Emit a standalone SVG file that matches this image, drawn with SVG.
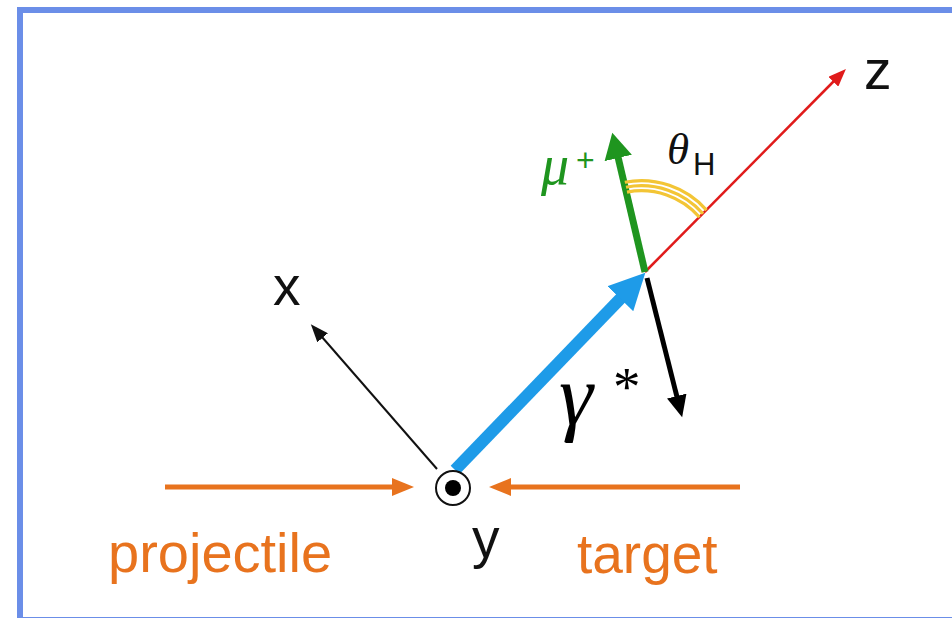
<svg xmlns="http://www.w3.org/2000/svg" width="952" height="618" viewBox="0 0 952 618">
<style>
.lbl{font-family:"Liberation Sans",Arial,sans-serif;fill:#111}
.math{font-family:"Liberation Serif","Times New Roman",serif;font-style:italic}
.org{fill:#e8731e}
</style>
<defs>
<marker id="mBlue" markerUnits="userSpaceOnUse" markerWidth="37" markerHeight="36" refX="1" refY="18" orient="auto"><path d="M0,0 L36,18 L0,36 z" fill="#1e9be8"/></marker>
<marker id="mGreen" markerUnits="userSpaceOnUse" markerWidth="27" markerHeight="28" refX="1" refY="14" orient="auto"><path d="M0,0 L26,14 L0,28 z" fill="#1f951f"/></marker>
<marker id="mBlack" markerUnits="userSpaceOnUse" markerWidth="23" markerHeight="20" refX="1" refY="10" orient="auto"><path d="M0,0 L22,10 L0,20 z" fill="#000"/></marker>
<marker id="mRed" markerUnits="userSpaceOnUse" markerWidth="19" markerHeight="14" refX="1" refY="7" orient="auto"><path d="M0,0 L18,7 L0,14 z" fill="#e01b1b"/></marker>
<marker id="mThin" markerUnits="userSpaceOnUse" markerWidth="19" markerHeight="14" refX="1" refY="7" orient="auto"><path d="M0,0 L18,7 L0,14 z" fill="#111"/></marker>
<marker id="mOrange" markerUnits="userSpaceOnUse" markerWidth="23" markerHeight="18" refX="1" refY="9" orient="auto"><path d="M0,0 L22,9 L0,18 z" fill="#e8731e"/></marker>
</defs>
<rect x="0" y="0" width="952" height="618" fill="#fff"/>
<rect x="20" y="10" width="940" height="610" fill="none" stroke="#6b8ee8" stroke-width="6"/>

<g id="connectors" fill="none">
  <path d="M645,272 L834,81" stroke="#e01b1b" stroke-width="2.5" marker-end="url(#mRed)"/>
  <path d="M437,469 L322,337" stroke="#111" stroke-width="2" marker-end="url(#mThin)"/>
  <path d="M455,470 L621,298" stroke="#1e9be8" stroke-width="12" marker-end="url(#mBlue)"/>
  <path d="M645,272 L618,157" stroke="#1f951f" stroke-width="7" marker-end="url(#mGreen)"/>
  <path d="M647,278 L677,397" stroke="#000" stroke-width="5" marker-end="url(#mBlack)"/>
  <path d="M165,487 L393,487" stroke="#e8731e" stroke-width="5" marker-end="url(#mOrange)"/>
  <path d="M740,487 L510,487" stroke="#e8731e" stroke-width="5" marker-end="url(#mOrange)"/>
  <g id="angle" stroke="#f3c535" stroke-width="3.2">
    <path d="M627.0,192.1 A77,77 0 0 1 699.5,217.2"/>
    <path d="M626.0,187.2 A82,82 0 0 1 703.0,213.7"/>
    <path d="M624.8,182.3 A87,87 0 0 1 706.5,210.1"/>
  </g>
</g>

<g id="origin">
  <circle cx="453" cy="488" r="17" fill="#fff" stroke="#111" stroke-width="2"/>
  <circle cx="453" cy="488" r="8" fill="#000"/>
</g>
<g id="label-x"><text class="lbl" x="273" y="305" font-size="55">x</text></g>
<g id="label-y"><text class="lbl" x="472" y="557" font-size="55">y</text></g>
<g id="label-z"><text class="lbl" x="864" y="89" font-size="55">z</text></g>
<g id="label-theta"><text class="math" x="667" y="164" font-size="45" fill="#111">θ</text><text class="lbl" x="693" y="175" font-size="31" fill="#333">H</text></g>
<g id="label-mu"><text class="math" x="541" y="184" font-size="56" fill="#1f951f">μ</text><text x="576" y="171" font-size="32" fill="#1f951f" font-family="Liberation Sans, sans-serif">+</text></g>
<g id="label-gamma"><text class="math" x="559" y="424" font-size="86" fill="#000">γ</text><text x="613" y="405" font-size="55" font-family="Liberation Serif, serif" fill="#000">*</text></g>
<g id="label-projectile"><text class="lbl org" x="108" y="572" font-size="56">projectile</text></g>
<g id="label-target"><text class="lbl org" x="577" y="573" font-size="55">target</text></g>
</svg>
